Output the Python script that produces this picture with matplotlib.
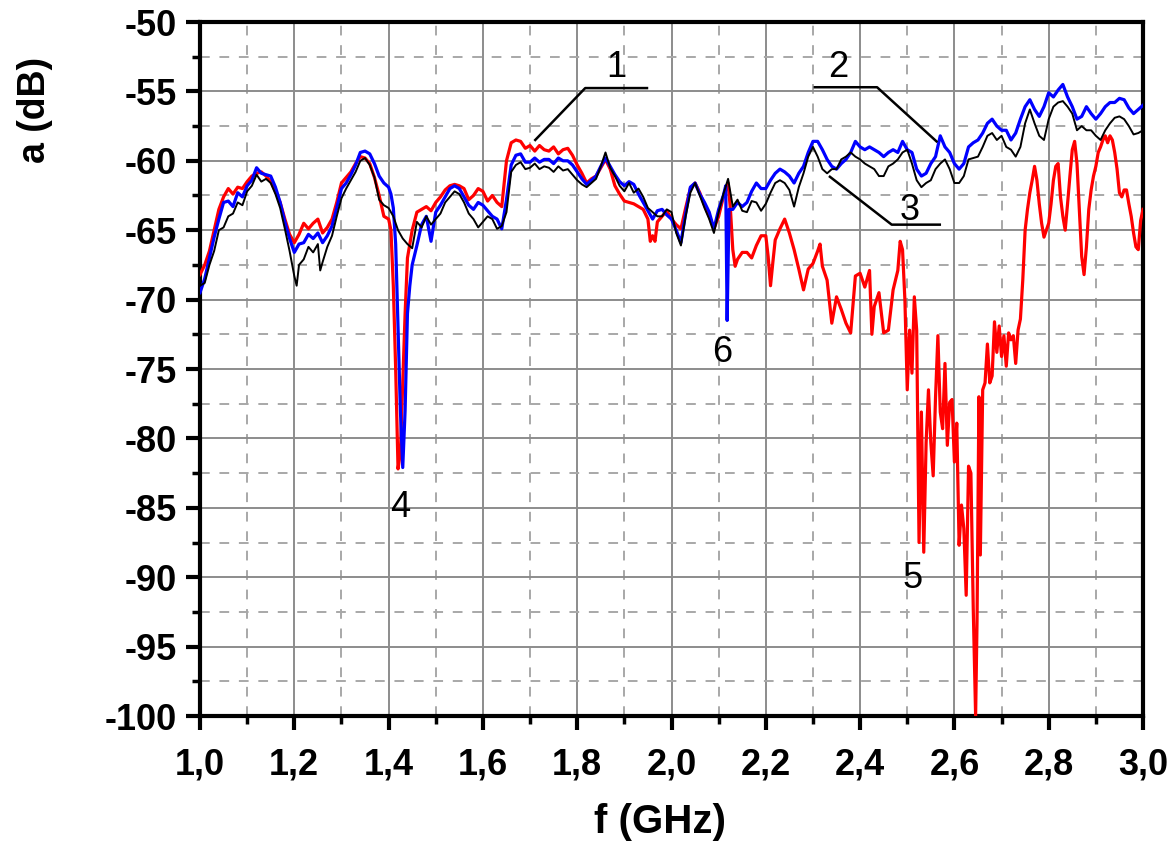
import matplotlib
matplotlib.use("Agg")
import matplotlib.pyplot as plt
from matplotlib.ticker import MultipleLocator, FuncFormatter

plt.rcParams['font.family'] = ['Liberation Sans', 'DejaVu Sans']

# --- courbe 1 (rouge) ---
red_f = [1.00, 1.01, 1.02, 1.03, 1.04, 1.05, 1.06, 1.07, 1.08, 1.09,
         1.10, 1.11, 1.12, 1.13, 1.14, 1.15, 1.16, 1.17, 1.18, 1.19,
         1.20, 1.21, 1.22, 1.23, 1.24, 1.25, 1.26, 1.27, 1.28, 1.29,
         1.30, 1.31, 1.32, 1.33, 1.34, 1.35, 1.36, 1.37, 1.38, 1.39,
         1.40, 1.405, 1.41, 1.415, 1.42, 1.425, 1.43, 1.435, 1.44, 1.45,
         1.46, 1.47, 1.48, 1.49, 1.50, 1.51, 1.52, 1.53, 1.54, 1.55,
         1.56, 1.57, 1.58, 1.59, 1.60, 1.61, 1.62, 1.63, 1.64, 1.65,
         1.66, 1.67, 1.68, 1.69, 1.70, 1.71, 1.72, 1.73, 1.74, 1.75,
         1.76, 1.77, 1.78, 1.79, 1.80, 1.81, 1.82, 1.83, 1.84, 1.85,
         1.86, 1.87, 1.88, 1.89, 1.90, 1.91, 1.92, 1.93, 1.94, 1.95,
         1.955, 1.96, 1.965, 1.97, 1.98, 1.99, 2.00, 2.01, 2.02, 2.03,
         2.04, 2.05, 2.06, 2.07, 2.08, 2.09, 2.10, 2.11, 2.12, 2.125,
         2.13, 2.135, 2.14, 2.15, 2.16, 2.17, 2.18, 2.19, 2.20, 2.205,
         2.21, 2.215, 2.22, 2.23, 2.24, 2.25, 2.26, 2.27, 2.28, 2.29,
         2.30, 2.31, 2.315, 2.32, 2.33, 2.34, 2.35, 2.36, 2.37, 2.38,
         2.39, 2.40, 2.41, 2.42, 2.425, 2.43, 2.44, 2.45, 2.46, 2.47,
         2.48, 2.485, 2.49, 2.495, 2.50, 2.505, 2.51, 2.515, 2.52, 2.525,
         2.53, 2.535, 2.54, 2.545, 2.55, 2.555, 2.56, 2.565, 2.57, 2.575,
         2.58, 2.585, 2.59, 2.595, 2.60, 2.605, 2.61, 2.615, 2.62, 2.625,
         2.63, 2.635, 2.64, 2.645, 2.648, 2.652, 2.655, 2.66, 2.665, 2.67,
         2.675, 2.68, 2.685, 2.69, 2.695, 2.70, 2.705, 2.71, 2.715, 2.72,
         2.725, 2.73, 2.735, 2.74, 2.745, 2.75, 2.755, 2.76, 2.765, 2.77,
         2.775, 2.78, 2.785, 2.79, 2.795, 2.80, 2.805, 2.81, 2.815, 2.82,
         2.825, 2.83, 2.835, 2.84, 2.845, 2.85, 2.855, 2.86, 2.865, 2.87,
         2.875, 2.88, 2.885, 2.89, 2.895, 2.90, 2.905, 2.91, 2.915, 2.92,
         2.925, 2.93, 2.935, 2.94, 2.945, 2.95, 2.955, 2.96, 2.965, 2.97,
         2.975, 2.98, 2.985, 2.99, 2.995, 3.00]
red_a = [-68.2, -67.5, -66.5, -65.0, -63.5, -62.6, -62.0, -62.4, -61.9, -62.0,
         -61.5, -61.1, -60.9, -60.8, -61.1, -61.5, -62.2, -63.0, -64.2, -65.3,
         -65.9, -65.3, -64.5, -64.9, -64.5, -64.2, -65.2, -64.8, -64.2, -63.0,
         -61.6, -61.2, -60.8, -60.2, -59.7, -59.8, -60.2, -61.2, -62.5, -64.0,
         -64.2, -65.0, -69.0, -75.0, -82.2, -81.0, -76.0, -71.0, -67.0, -65.0,
         -63.7, -63.5, -63.3, -63.6, -63.0, -62.6, -62.1, -61.8, -61.7, -61.8,
         -62.0, -62.8, -62.5, -62.0, -62.2, -62.9, -62.5, -63.0, -63.3, -60.0,
         -58.7, -58.5, -58.6, -59.1, -58.9, -59.3, -58.9, -59.2, -59.3, -59.0,
         -59.5, -59.2, -59.1, -59.6, -60.3, -60.9, -61.6, -61.3, -61.1, -60.5,
         -59.9, -60.6, -61.8, -62.4, -62.9, -63.0, -63.1, -63.3, -63.5, -64.2,
         -65.8, -65.4, -65.8, -64.4, -64.0, -63.6, -64.2, -64.6, -64.9, -63.4,
         -62.0, -61.6, -62.3, -63.2, -64.0, -64.9, -64.0, -62.6, -61.6, -63.5,
         -66.4, -67.6, -67.1, -66.6, -66.6, -67.0, -66.1, -65.4, -65.4, -66.9,
         -69.0, -67.3, -65.7, -64.9, -64.2, -65.2, -66.4, -67.8, -69.3, -67.8,
         -67.4, -66.5, -66.0, -67.6, -68.6, -71.7, -69.8, -70.7, -71.7, -72.4,
         -68.3, -68.1, -69.1, -67.9, -72.5, -70.5, -69.5, -72.4, -72.2, -69.3,
         -67.9, -65.8, -66.4, -70.0, -76.5, -72.2, -75.3, -69.8, -72.2, -87.5,
         -78.1, -88.2, -80.3, -76.5, -80.3, -82.7, -77.0, -72.6, -78.1, -79.3,
         -74.6, -80.5, -77.4, -77.2, -81.7, -78.9, -87.7, -84.8, -86.5, -91.3,
         -82.0, -82.5, -92.3, -100.0, -93.2, -77.0, -88.4, -76.5, -76.0, -73.2,
         -76.0, -75.5, -71.6, -73.8, -71.9, -74.1, -72.6, -74.8, -72.4, -72.9,
         -72.6, -74.6, -72.2, -71.4, -68.6, -65.0, -63.5, -62.3, -61.4, -60.4,
         -61.4, -63.1, -64.5, -65.5, -65.0, -64.5, -63.1, -61.4, -60.4, -60.2,
         -62.6, -64.0, -65.0, -63.1, -61.1, -59.2, -58.6, -60.2, -63.5, -66.9,
         -68.2, -66.2, -63.5, -62.1, -61.1, -60.4, -59.4, -59.0, -58.5, -58.2,
         -58.7, -58.2, -58.5, -59.4, -60.6, -62.3, -62.6, -62.1, -62.1, -63.1,
         -64.0, -65.2, -66.2, -66.4, -64.3, -63.5]

# --- courbe 2 (bleue) ---
blue_f = [1.00, 1.01, 1.02, 1.03, 1.04, 1.05, 1.06, 1.07, 1.08, 1.09,
          1.10, 1.11, 1.12, 1.13, 1.14, 1.15, 1.16, 1.17, 1.18, 1.19,
          1.20, 1.21, 1.22, 1.23, 1.24, 1.25, 1.26, 1.27, 1.28, 1.29,
          1.30, 1.31, 1.32, 1.33, 1.34, 1.35, 1.36, 1.37, 1.38, 1.39,
          1.40, 1.405, 1.41, 1.415, 1.42, 1.425, 1.43, 1.435, 1.44, 1.445,
          1.45, 1.46, 1.47, 1.48, 1.49, 1.50, 1.51, 1.52, 1.53, 1.54,
          1.55, 1.56, 1.57, 1.58, 1.59, 1.60, 1.61, 1.62, 1.63, 1.64,
          1.65, 1.66, 1.67, 1.68, 1.69, 1.70, 1.71, 1.72, 1.73, 1.74,
          1.75, 1.76, 1.77, 1.78, 1.79, 1.80, 1.81, 1.82, 1.83, 1.84,
          1.85, 1.86, 1.87, 1.88, 1.89, 1.90, 1.91, 1.92, 1.93, 1.94,
          1.95, 1.96, 1.97, 1.98, 1.99, 2.00, 2.01, 2.02, 2.03, 2.04,
          2.05, 2.06, 2.07, 2.08, 2.09, 2.10, 2.11, 2.115, 2.118, 2.122,
          2.13, 2.14, 2.15, 2.16, 2.17, 2.18, 2.19, 2.20, 2.21, 2.22,
          2.23, 2.24, 2.25, 2.26, 2.27, 2.28, 2.29, 2.30, 2.31, 2.32,
          2.33, 2.34, 2.35, 2.36, 2.37, 2.38, 2.39, 2.40, 2.41, 2.42,
          2.43, 2.44, 2.45, 2.46, 2.47, 2.48, 2.49, 2.50, 2.51, 2.52,
          2.53, 2.54, 2.55, 2.56, 2.57, 2.58, 2.59, 2.60, 2.61, 2.62,
          2.63, 2.64, 2.65, 2.66, 2.67, 2.68, 2.69, 2.70, 2.71, 2.72,
          2.73, 2.74, 2.75, 2.76, 2.77, 2.78, 2.79, 2.80, 2.81, 2.82,
          2.83, 2.84, 2.85, 2.86, 2.87, 2.88, 2.89, 2.90, 2.91, 2.92,
          2.93, 2.94, 2.95, 2.96, 2.97, 2.98, 2.99, 3.00]
blue_a = [-69.5, -68.5, -67.0, -65.5, -64.2, -63.0, -62.9, -63.3, -62.3, -62.6,
          -61.8, -61.4, -60.5, -60.9, -61.0, -61.1, -61.9, -63.0, -64.4, -65.6,
          -66.6, -66.0, -65.9, -65.3, -65.6, -65.2, -65.9, -65.4, -64.7, -63.4,
          -62.0, -61.6, -61.0, -60.3, -59.4, -59.3, -59.5, -60.2, -61.1, -61.6,
          -61.9, -62.4, -63.4, -66.0, -72.0, -78.0, -82.1, -78.0, -71.0, -69.0,
          -67.5, -66.1, -64.6, -64.0, -65.8, -63.7, -63.2, -62.6, -62.0, -61.8,
          -62.0, -62.6, -63.2, -63.5, -63.0, -63.2, -63.6, -64.0, -64.2, -64.9,
          -62.8, -60.3, -59.6, -59.5, -60.1, -60.1, -59.8, -60.1, -59.9, -59.9,
          -60.2, -59.8, -60.0, -60.0, -60.3, -60.8, -61.3, -61.7, -61.4, -61.1,
          -60.4, -59.8, -60.4, -61.0, -61.5, -61.8, -61.5, -61.7, -62.4, -63.0,
          -63.6, -64.2, -63.6, -63.5, -63.9, -64.2, -65.0, -65.9, -63.8, -61.9,
          -61.6, -62.4, -63.0, -63.7, -64.9, -63.5, -62.5, -61.8, -71.5, -63.5,
          -63.5, -63.0, -63.3, -63.0, -62.2, -61.6, -62.0, -62.0, -61.4, -60.9,
          -60.6, -60.8, -61.1, -61.6, -60.9, -60.4, -59.4, -58.6, -58.6, -59.2,
          -59.9, -60.4, -60.6, -60.2, -59.9, -59.4, -58.6, -59.0, -59.2, -59.0,
          -59.2, -59.4, -59.7, -59.4, -59.2, -59.4, -58.6, -59.2, -59.4, -60.6,
          -61.1, -60.9, -60.2, -59.7, -58.2, -59.0, -59.4, -60.2, -60.6, -60.2,
          -59.0, -58.7, -58.5, -58.0, -57.3, -57.0, -57.5, -57.8, -57.8, -58.5,
          -58.0, -57.0, -56.1, -55.6, -56.3, -56.8, -56.1, -55.1, -55.4, -54.9,
          -54.5, -55.4, -56.1, -57.0, -56.8, -56.1, -56.6, -57.0, -56.6, -56.1,
          -55.8, -55.8, -55.5, -55.6, -56.2, -56.6, -56.3, -56.0]

# --- courbe 3 (noire) ---
black_f = [1.00, 1.01, 1.02, 1.03, 1.04, 1.05, 1.06, 1.07, 1.08, 1.09,
           1.10, 1.11, 1.12, 1.13, 1.14, 1.15, 1.16, 1.17, 1.18, 1.19,
           1.20, 1.205, 1.21, 1.22, 1.23, 1.24, 1.25, 1.255, 1.26, 1.27,
           1.28, 1.29, 1.30, 1.31, 1.32, 1.33, 1.34, 1.35, 1.36, 1.37,
           1.38, 1.39, 1.40, 1.41, 1.42, 1.43, 1.44, 1.45, 1.46, 1.47,
           1.48, 1.49, 1.50, 1.51, 1.52, 1.53, 1.54, 1.55, 1.56, 1.57,
           1.58, 1.59, 1.60, 1.61, 1.62, 1.63, 1.64, 1.65, 1.66, 1.67,
           1.68, 1.69, 1.70, 1.71, 1.72, 1.73, 1.74, 1.75, 1.76, 1.77,
           1.78, 1.79, 1.80, 1.81, 1.82, 1.83, 1.84, 1.85, 1.86, 1.87,
           1.88, 1.89, 1.90, 1.91, 1.92, 1.93, 1.94, 1.95, 1.96, 1.97,
           1.98, 1.99, 2.00, 2.01, 2.02, 2.03, 2.04, 2.05, 2.06, 2.07,
           2.08, 2.09, 2.10, 2.11, 2.12, 2.13, 2.14, 2.15, 2.16, 2.17,
           2.18, 2.19, 2.20, 2.21, 2.22, 2.23, 2.24, 2.25, 2.26, 2.27,
           2.28, 2.29, 2.30, 2.31, 2.32, 2.33, 2.34, 2.35, 2.36, 2.37,
           2.38, 2.39, 2.40, 2.41, 2.42, 2.43, 2.44, 2.45, 2.46, 2.47,
           2.48, 2.49, 2.50, 2.51, 2.52, 2.53, 2.54, 2.55, 2.56, 2.57,
           2.58, 2.59, 2.60, 2.61, 2.62, 2.63, 2.64, 2.65, 2.66, 2.67,
           2.68, 2.69, 2.70, 2.71, 2.72, 2.73, 2.74, 2.75, 2.76, 2.77,
           2.78, 2.79, 2.80, 2.81, 2.82, 2.83, 2.84, 2.85, 2.86, 2.87,
           2.88, 2.89, 2.90, 2.91, 2.92, 2.93, 2.94, 2.95, 2.96, 2.97,
           2.98, 2.99, 3.00]
black_a = [-69.0, -68.8, -67.5, -66.5, -65.0, -64.8, -64.0, -63.8, -63.0, -63.2,
           -62.2, -61.8, -61.0, -61.5, -61.3, -61.6, -62.4, -63.4, -64.9, -66.5,
           -68.3, -69.0, -67.5, -67.1, -66.2, -66.6, -66.0, -67.9, -67.3, -66.2,
           -65.4, -64.0, -62.7, -62.0, -61.4, -60.8, -60.0, -59.8, -60.3, -61.2,
           -62.8, -63.2, -63.4, -64.0, -65.0, -65.6, -66.0, -66.3, -64.4, -64.8,
           -64.0, -64.6, -64.2, -63.8, -63.0, -62.6, -62.2, -62.4, -63.0, -63.8,
           -64.2, -64.8, -64.4, -64.0, -64.2, -64.9, -64.7, -63.7, -60.8, -60.3,
           -60.1, -60.6, -60.5, -60.2, -60.6, -60.4, -60.5, -60.8, -60.4, -60.7,
           -60.6, -61.0, -61.4, -61.7, -61.9, -61.6, -61.3, -60.4, -59.4, -60.5,
           -61.1, -61.8, -62.2, -61.6, -62.3, -62.0, -62.6, -63.4, -63.7, -64.0,
           -64.0, -63.5, -63.7, -65.2, -66.1, -64.0, -62.3, -61.6, -62.5, -63.4,
           -64.2, -65.2, -63.7, -62.4, -61.3, -63.3, -62.8, -63.6, -63.7, -62.9,
           -63.0, -63.6, -63.1, -62.3, -61.6, -61.4, -61.6, -62.1, -63.3, -61.9,
           -60.9, -59.7, -59.0, -59.7, -60.6, -60.9, -60.6, -60.6, -59.9, -59.7,
           -59.4, -59.7, -59.9, -60.2, -60.4, -60.6, -61.1, -61.1, -60.4, -60.2,
           -59.9, -59.4, -59.2, -60.2, -61.4, -61.9, -61.6, -61.4, -60.6, -60.2,
           -59.9, -60.6, -61.6, -61.6, -61.1, -59.9, -59.8, -59.7, -59.0, -58.2,
           -58.0, -58.5, -58.2, -59.0, -59.2, -59.7, -59.0, -57.3, -56.3, -57.3,
           -58.2, -58.5, -57.0, -56.1, -55.8, -55.7, -56.1, -56.6, -57.8, -57.5,
           -57.8, -57.8, -58.2, -58.5, -57.8, -57.3, -56.9, -56.8, -57.0, -57.5,
           -58.1, -58.0, -57.8]

# numéros des courbes : (texte, x, y)
labels_txt = ["1", "2", "3", "4", "5", "6"]
labels_x = [1.884, 2.353, 2.506, 1.424, 2.512, 2.107]
labels_y = [-53.3, -53.3, -63.55, -85.0, -90.1, -73.8]

# traits de rappel : départ sur la courbe -> coude -> fin horizontale
lead1_x = [1.711, 1.817, 1.948]
lead1_y = [-58.5, -54.76, -54.76]
lead2_x = [2.562, 2.436, 2.304]
lead2_y = [-58.6, -54.7, -54.7]
lead3_x = [2.336, 2.467, 2.569]
lead3_y = [-61.15, -64.6, -64.6]

fig = plt.figure(figsize=(11.69, 8.46), dpi=100)
ax = fig.add_axes([200/1169, 1 - 716/846, 943/1169, 694/846])

ax.plot(red_f, red_a, color='#ff0000', linewidth=2.3, zorder=3)
ax.plot(blue_f, blue_a, color='#0000ff', linewidth=2.3, zorder=4)
ax.plot(black_f, black_a, color='black', linewidth=1.4, zorder=5)

for lx, ly in [(lead1_x, lead1_y), (lead2_x, lead2_y), (lead3_x, lead3_y)]:
    ax.plot(lx, ly, color='black', linewidth=1.8, zorder=6)

for t, x, y in zip(labels_txt, labels_x, labels_y):
    ax.text(x, y, t, fontsize=26, ha='center', va='center', zorder=7)

ax.set_xlim(1.0, 3.0)
ax.set_ylim(-100, -50)
ax.xaxis.set_major_locator(MultipleLocator(0.2))
ax.xaxis.set_minor_locator(MultipleLocator(0.1))
ax.yaxis.set_major_locator(MultipleLocator(5))
ax.yaxis.set_minor_locator(MultipleLocator(2.5))
ax.xaxis.set_major_formatter(FuncFormatter(lambda v, p: f"{v:.1f}".replace('.', ',')))
ax.yaxis.set_major_formatter(FuncFormatter(lambda v, p: f"{v:.0f}"))

ax.grid(which='major', color='#8c8c8c', linestyle='-', linewidth=1.4, zorder=0)
ax.grid(which='minor', color='#a8a8a8', linestyle=(0, (5, 5)), linewidth=1.4, zorder=0)
ax.set_axisbelow(True)

for s in ax.spines.values():
    s.set_linewidth(3)
ax.tick_params(which='major', direction='out', length=10, width=3, labelsize=26, pad=7)
ax.tick_params(which='minor', direction='out', length=6, width=2.5)
ax.tick_params(axis='x', which='major', pad=13)
for lab in ax.get_xticklabels() + ax.get_yticklabels():
    lab.set_fontweight('bold')

ax.set_xlabel("f (GHz)", fontsize=29, fontweight='bold', va='center')
ax.xaxis.set_label_coords(0.488, -0.153)
ax.set_ylabel("a (dB)", fontsize=27, fontweight='bold', va='center')
ax.yaxis.set_label_coords(-0.175, 0.873)

fig.savefig("out.png", dpi=100)
